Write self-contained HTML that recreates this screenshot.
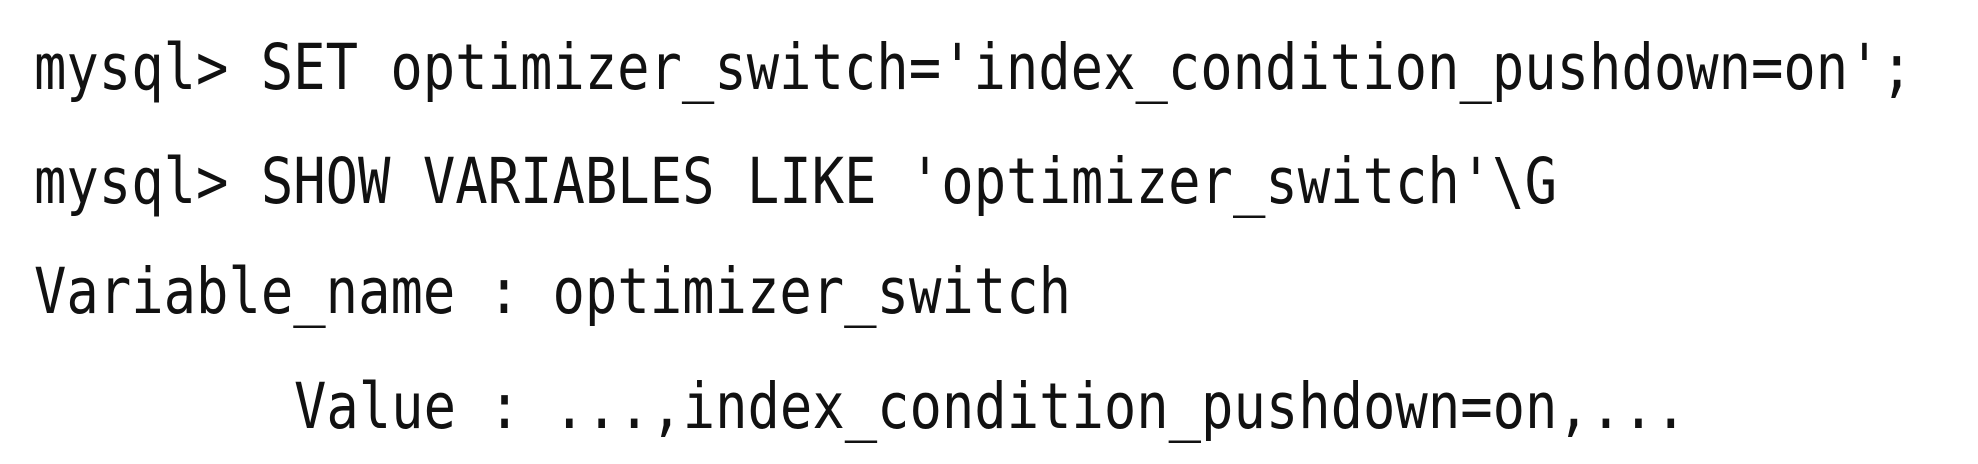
<!DOCTYPE html>
<html><head><meta charset="utf-8"><style>
html,body{margin:0;padding:0;background:#fff;width:1978px;height:464px;overflow:hidden}
svg{display:block}
text{font-family:"DejaVu Sans Mono","Liberation Mono",monospace;font-size:63px;fill:#111;white-space:pre}
</style></head><body>
<svg width="1978" height="464" xmlns="http://www.w3.org/2000/svg">
<text x="34" y="89" textLength="1879" lengthAdjust="spacingAndGlyphs" xml:space="preserve">mysql&gt; SET optimizer_switch='index_condition_pushdown=on';</text>
<text x="34" y="203" textLength="1523" lengthAdjust="spacingAndGlyphs" xml:space="preserve">mysql&gt; SHOW VARIABLES LIKE 'optimizer_switch'\G</text>
<text x="34" y="313" textLength="1037" lengthAdjust="spacingAndGlyphs" xml:space="preserve">Variable_name : optimizer_switch</text>
<text x="294" y="428" textLength="1393" lengthAdjust="spacingAndGlyphs" xml:space="preserve">Value : ...,index_condition_pushdown=on,...</text>
</svg>
</body></html>
